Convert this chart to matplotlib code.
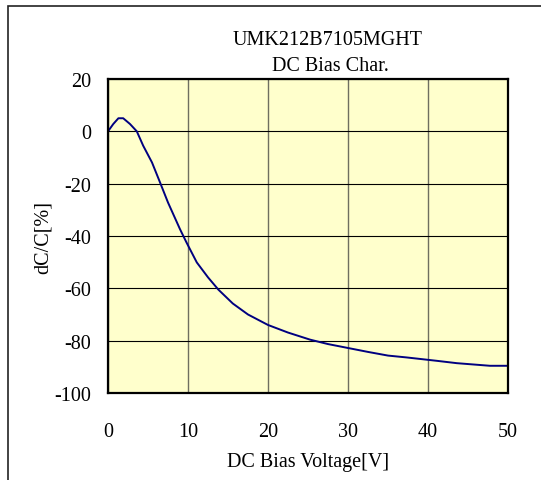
import matplotlib
matplotlib.use("Agg")
import matplotlib.pyplot as plt
from matplotlib.patches import Rectangle

# DC bias characteristic
voltage = [0, 0.66, 1.3, 1.9, 2.75, 3.6, 4.4, 5.5, 6.5, 7.5, 9, 9.8, 11.1, 12.5,
           13.8, 15.6, 17.5, 20, 22.5, 25.25, 27.5, 30, 32.5, 35, 37.3, 41.1,
           43.6, 47.75, 50]
dcc = [0, 2.8, 5.0, 5.0, 2.8, 0, -5.5, -11.9, -19.5, -27.2, -37.4, -42.4, -50.1,
       -55.8, -60.5, -65.8, -70.0, -74, -76.9, -79.6, -81.3, -82.8, -84.3, -85.7,
       -86.4, -87.7, -88.6, -89.6, -89.6]

xticks = [0, 10, 20, 30, 40, 50]
yticks = [20, 0, -20, -40, -60, -80, -100]

W, H = 541, 481
plt.rcParams['font.family'] = ['Liberation Serif', 'DejaVu Serif']
plt.rcParams['axes.unicode_minus'] = False

fig = plt.figure(figsize=(W / 100, H / 100), dpi=100)
fig.patch.set_facecolor('white')

# outer chart border
fig.patches.append(Rectangle((8 / W, -0.2), 1.2, (H - 7) / H + 0.2,
                             transform=fig.transFigure, fill=False,
                             edgecolor='#222222', linewidth=1.2))

ax = fig.add_axes([108 / W, (H - 394) / H, 400 / W, 314 / H])
ax.set_facecolor('#FFFFCC')

ax.plot(voltage, dcc, color='#000080', linewidth=1.4)

ax.set_xlim(0, 50)
ax.set_ylim(-100, 20)
ax.set_xticks(xticks)
ax.set_yticks(yticks)
ax.tick_params(length=0, labelsize=14.5, pad=12)
ax.tick_params(axis='x', pad=21)

ax.xaxis.grid(True, color='#6f6f60', linewidth=1.0)
ax.yaxis.grid(True, color='black', linewidth=0.8)
ax.set_axisbelow(True)

for side in ax.spines.values():
    side.set_linewidth(1.6)
    side.set_color('black')

ax.set_xlabel('DC Bias Voltage[V]', fontsize=14.5, labelpad=8)
ax.set_ylabel('dC/C[%]', fontsize=14.5, labelpad=1.5)

fig.text(328 / W, 1 - 41 / H, 'UMK212B7105MGHT', fontsize=14.5,
         ha='center', va='center')
fig.text(330 / W, 1 - 66.5 / H, 'DC Bias Char.', fontsize=14.5,
         ha='center', va='center')

fig.savefig('out.png', dpi=100)
